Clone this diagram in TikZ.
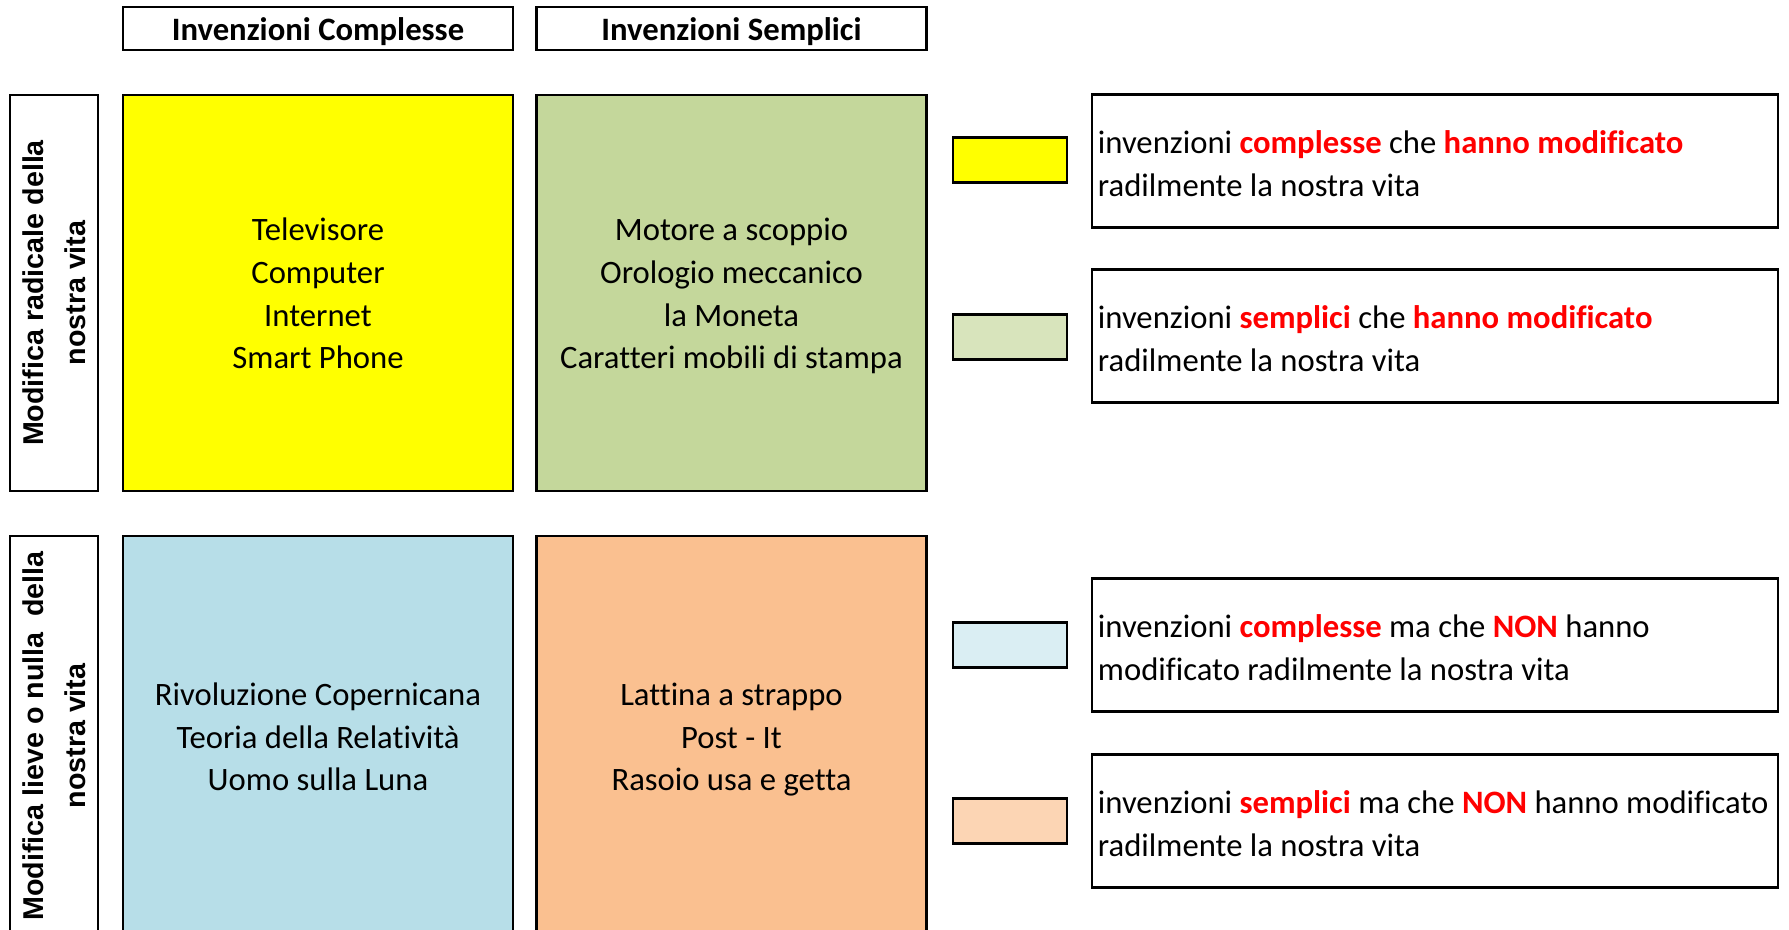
\documentclass[tikz,border=0pt]{standalone}
\usepackage{fontspec}
\setmainfont{Carlito}[Ligatures=NoCommon]
\newfontfamily\sidefont{Liberation Sans}
\usetikzlibrary{positioning}

\definecolor{cellgiallo}{HTML}{FFFF00}
\definecolor{cellverde}{HTML}{C4D79B}
\definecolor{cellazzurro}{HTML}{B7DEE8}
\definecolor{cellarancio}{HTML}{FAC090}
\definecolor{swverde}{HTML}{D8E4BC}
\definecolor{swazzurro}{HTML}{DAEEF3}
\definecolor{swarancio}{HTML}{FCD5B4}
\definecolor{rosso}{HTML}{FF0000}

\newcommand{\evid}[1]{{\color{rosso}\bfseries #1}}
\newcommand{\sostegno}{\rule[-6pt]{0pt}{30pt}}

\begin{document}
\begin{tikzpicture}[x=0.75pt,y=-0.75pt,
		cellbox/.style={draw, line width=2pt, minimum width=292.5pt, minimum height=297pt,
			align=center, inner sep=0pt, font=\fontsize{24.5}{32}\selectfont},
		headbox/.style={draw, line width=1.8pt, minimum width=292.5pt, minimum height=32.25pt,
			inner sep=0pt, text height=21.75pt, text depth=3pt, font=\fontsize{24.5}{28}\selectfont\bfseries},
		sidebox/.style={draw, line width=2pt, rotate=90, minimum width=297pt, minimum height=66pt,
			align=center, inner sep=0pt, font=\sidefont\fontsize{21.5}{31.5}\selectfont\bfseries},
		swatch/.style={draw, line width=2pt, minimum width=85.5pt, minimum height=33.75pt, inner sep=0pt},
		legendbox/.style={draw, line width=2pt, minimum width=514.5pt, minimum height=99.75pt, inner sep=0pt},
		legendtext/.style={anchor=west, align=left, inner sep=0pt, yshift=-1.8pt,
			font=\fontsize{24.5}{32}\selectfont}]
		% frame of the page
		\useasboundingbox (0,0) rectangle (1789,930);
		\clip (0,0) rectangle (1789,930);
		
		% column headers
		\node [headbox] (hcompl) at (318,28.5) {Invenzioni Complesse};
		\node [headbox] (hsempl) at (731.5,28.5) {Invenzioni Semplici};
		
		% row headers
		\node [sidebox] (radicale) at (54,293) {Modifica radicale della\\nostra vita};
		\node [sidebox, minimum width=300pt] (lieve) at (54,736) {Modifica lieve o nulla\ \ della\\nostra vita};
		
		% the four cells
		\node [cellbox, fill=cellgiallo] (cgiallo) at (318,293)
			{\sostegno Televisore\\Computer\\Internet\\Smart Phone\sostegno};
		\node [cellbox, fill=cellverde] (cverde) at (731.5,293)
			{\sostegno Motore a scoppio\\Orologio meccanico\\la Moneta\\Caratteri mobili di stampa\sostegno};
		\node [cellbox, fill=cellazzurro, minimum height=300pt] (cazzurro) at (318,736)
			{\sostegno Rivoluzione Copernicana\\Teoria della Relativit\`a\\Uomo sulla Luna\sostegno};
		\node [cellbox, fill=cellarancio, minimum height=300pt] (carancio) at (731.5,736)
			{\sostegno Lattina a strappo\\Post - It\\Rasoio usa e getta\sostegno};
		
		% legend: colour samples
		\node [swatch, fill=cellgiallo] (sgiallo) at (1010,160) {};
		\node [swatch, fill=swverde] (sverde) at (1010,337) {};
		\node [swatch, fill=swazzurro] (sazzurro) at (1010,645) {};
		\node [swatch, fill=swarancio] (sarancio) at (1010,821) {};
		
		% legend: boxes and their text
		\node [legendbox] (lgiallo) at (1435,161) {};
		\node [legendbox] (lverde) at (1435,336) {};
		\node [legendbox] (lazzurro) at (1435,645) {};
		\node [legendbox] (larancio) at (1435,821) {};
		
		\node [legendtext] (tgiallo) at ([xshift=5.25pt]lgiallo.west)
			{invenzioni \evid{complesse} che \evid{hanno modificato}\\radilmente la nostra vita};
		\node [legendtext] (tverde) at ([xshift=5.25pt]lverde.west)
			{invenzioni \evid{semplici} che \evid{hanno modificato}\\radilmente la nostra vita};
		\node [legendtext] (tazzurro) at ([xshift=5.25pt]lazzurro.west)
			{invenzioni \evid{complesse} ma che \evid{NON} hanno\\modificato radilmente la nostra vita};
		\node [legendtext] (tarancio) at ([xshift=5.25pt]larancio.west)
			{invenzioni \evid{semplici} ma che \evid{NON} hanno modificato\\radilmente la nostra vita};
	\end{tikzpicture}
\end{document}
